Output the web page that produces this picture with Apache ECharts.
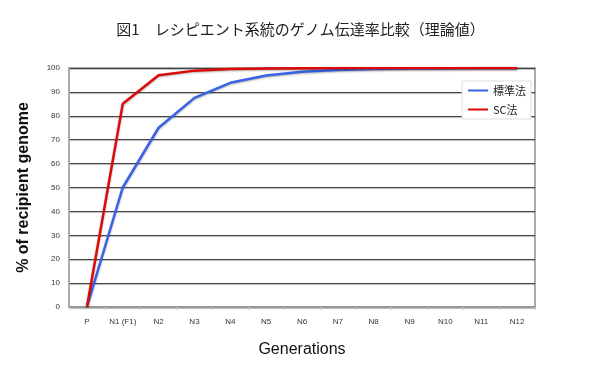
<!DOCTYPE html>
<html><head><meta charset="utf-8">
<script src="https://cdn.jsdelivr.net/npm/echarts@6/dist/echarts.min.js"></script>
<style>html,body{margin:0;padding:0;background:#fff}#c{width:601px;height:374px}</style>
</head><body><div id="c"></div>
<script>
const categories = ['P','N1 (F1)','N2','N3','N4','N5','N6','N7','N8','N9','N10','N11','N12'];
const standard = [0, 50, 75, 87.5, 93.8, 96.9, 98.4, 99.2, 99.6, 99.8, 99.9, 99.95, 99.98];
const sc = [0, 85, 97, 98.9, 99.6, 99.8, 99.9, 99.95, 99.98, 99.99, 100, 100, 100];
const yTicks = [0,10,20,30,40,50,60,70,80,90,100];
const seriesNames = ['標準法','SC法'];
const font = '"Noto Sans CJK JP", "Noto Sans", sans-serif';
const latin = '"Liberation Sans", Arial, sans-serif';
const chart = echarts.init(document.getElementById('c'));
chart.setOption({
  animation: false,
  title: { text: '図1　レシピエント系統のゲノム伝達率比較（理論値）', left: 'center', top: 17,
    textStyle: { fontFamily: font, fontSize: 15, fontWeight: 'normal', color: '#222' } },
  legend: { data: seriesNames, orient: 'vertical', right: 70, top: 81, itemWidth: 20, itemHeight: 2, itemGap: 8,
    icon: 'rect', backgroundColor: '#fff', borderColor: '#ddd', borderWidth: 1, padding: [4, 5, 4, 6],
    textStyle: { fontFamily: font, fontSize: 11, color: '#222' } },
  grid: { left: 69, right: 66, top: 68, bottom: 67, show: true, borderColor: '#aaa', borderWidth: 2 },
  xAxis: { type: 'category', data: categories, boundaryGap: true,
    name: 'Generations', nameLocation: 'middle', nameGap: 35,
    nameTextStyle: { fontFamily: latin, fontSize: 16, color: '#111' },
    axisLine: { lineStyle: { color: '#999', width: 2 } },
    axisTick: { show: true, length: 3, interval: 0, lineStyle: { color: '#ccc' } },
    axisLabel: { fontFamily: latin, fontSize: 8, color: '#333', margin: 11, interval: 0 } },
  yAxis: { type: 'value', min: 0, max: 100, interval: 10,
    name: '% of recipient genome', nameLocation: 'middle', nameGap: 37,
    nameTextStyle: { fontFamily: latin, fontSize: 16, fontWeight: 'bold', color: '#111' },
    axisLine: { show: true, lineStyle: { color: '#aaa', width: 2 } },
    axisTick: { show: false },
    axisLabel: { fontFamily: latin, fontSize: 8, color: '#333', margin: 9,
      formatter: v => yTicks.includes(v) ? String(v) : '' },
    splitLine: { lineStyle: { color: '#444', width: 1.2, shadowColor: 'rgba(0,0,0,0.3)', shadowOffsetY: 1, shadowBlur: 1 } } },
  series: [
    { name: seriesNames[0], type: 'line', data: standard, symbol: 'none', color: '#3a62e6',
      lineStyle: { width: 2.5, shadowColor: 'rgba(0,0,0,0.3)', shadowBlur: 2, shadowOffsetY: 1 } },
    { name: seriesNames[1], type: 'line', data: sc, symbol: 'none', color: '#dd0a0a',
      lineStyle: { width: 2.5, shadowColor: 'rgba(0,0,0,0.3)', shadowBlur: 2, shadowOffsetY: 1 } }
  ]
});
</script></body></html>
